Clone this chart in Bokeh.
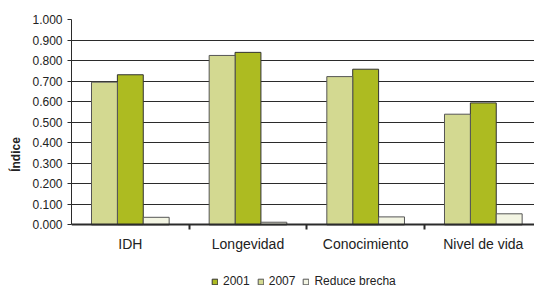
from bokeh.plotting import figure
from bokeh.models import (Range1d, FixedTicker, NumeralTickFormatter, Legend, LegendItem,
                          ColumnDataSource)
from bokeh.embed import file_html
from bokeh.resources import INLINE

categories = ["IDH", "Longevidad", "Conocimiento", "Nivel de vida"]
s2007 = [0.695, 0.825, 0.722, 0.539]   # light bars (first in group)
s2001 = [0.731, 0.840, 0.758, 0.594]   # dark bars (second in group)
reduce_brecha = [0.037, 0.013, 0.039, 0.054]
y_ticks = [0.0, 0.1, 0.2, 0.3, 0.4, 0.5, 0.6, 0.7, 0.8, 0.9, 1.0]

FONT = "Liberation Sans"
light = "#d3d991"
dark = "#adbb21"
pale = "#f3f5e3"

centers = [i + 0.5 for i in range(len(categories))]
bw = 0.22

p = figure(width=534, height=289, output_backend="svg", toolbar_location=None,
           x_range=Range1d(0, 3.935), y_range=Range1d(-0.3145, 1.0),
           min_border_left=71, min_border_right=0, min_border_top=19, min_border_bottom=0)
p.outline_line_color = None
p.background_fill_color = "white"

src = ColumnDataSource(dict(
    x_light=[c - bw for c in centers], x_dark=centers, x_pale=[c + bw for c in centers],
    light=s2007, dark=s2001, pale=reduce_brecha))

r_dark = p.vbar(x="x_dark", top="dark", width=bw, source=src, fill_color=dark,
                line_color="#333333", line_width=1)
r_light = p.vbar(x="x_light", top="light", width=bw, source=src, fill_color=light,
                 line_color="#555555", line_width=1)
r_pale = p.vbar(x="x_pale", top="pale", width=bw, source=src, fill_color=pale,
                line_color="#555555", line_width=1)

# grid
p.xgrid.visible = False
p.ygrid.ticker = FixedTicker(ticks=y_ticks)
p.ygrid.grid_line_color = "#2b2b2b"
p.ygrid.grid_line_width = 1
p.ygrid.level = "underlay"

# y axis
p.yaxis.ticker = FixedTicker(ticks=y_ticks)
p.yaxis.bounds = (0, 1)
p.yaxis.formatter = NumeralTickFormatter(format="0.000")
p.yaxis.axis_label = "Índice"
p.yaxis.axis_label_text_font = FONT
p.yaxis.axis_label_text_font_style = "bold"
p.yaxis.axis_label_text_font_size = "12px"
p.yaxis.axis_label_text_color = "#222222"
p.yaxis.axis_label_standoff = 6
p.yaxis.major_label_text_font = FONT
p.yaxis.major_label_text_font_size = "12px"
p.yaxis.major_label_text_color = "#222222"
p.yaxis.major_tick_out = 4
p.yaxis.major_tick_in = 0
p.yaxis.minor_tick_out = 0
p.yaxis.minor_tick_in = 0
p.yaxis.major_label_standoff = 5
p.yaxis.axis_line_color = "#2b2b2b"
p.yaxis.major_tick_line_color = "#2b2b2b"

# x axis (fixed at zero so the frame can host the legend below it)
p.xaxis.fixed_location = 0
p.xaxis.ticker = FixedTicker(ticks=centers, minor_ticks=[1, 2, 3])
p.xaxis.major_label_overrides = {c: lab for c, lab in zip(centers, categories)}
p.xaxis.major_label_text_font = FONT
p.xaxis.major_label_text_font_size = "14px"
p.xaxis.major_label_text_color = "#222222"
p.xaxis.major_tick_out = 0
p.xaxis.major_tick_in = 0
p.xaxis.minor_tick_out = 5
p.xaxis.minor_tick_in = 0
p.xaxis.minor_tick_line_color = "#2b2b2b"
p.xaxis.minor_tick_line_width = 2
p.xaxis.major_label_standoff = 6
p.xaxis.axis_line_color = "#2b2b2b"
p.xaxis.axis_line_width = 2

legend = Legend(items=[
    LegendItem(label="2001", renderers=[r_dark]),
    LegendItem(label="2007", renderers=[r_light]),
    LegendItem(label="Reduce brecha", renderers=[r_pale]),
], orientation="horizontal", location=(140, 1))
legend.label_text_font = FONT
legend.label_text_font_size = "12px"
legend.label_text_color = "#222222"
legend.glyph_width = 7
legend.glyph_height = 7
legend.label_standoff = 5
legend.spacing = 7
legend.padding = 0
legend.margin = 0
legend.border_line_color = None
legend.background_fill_alpha = 0
legend.label_height = 12
p.add_layout(legend)

open("out.html", "w").write(file_html(p, INLINE))
